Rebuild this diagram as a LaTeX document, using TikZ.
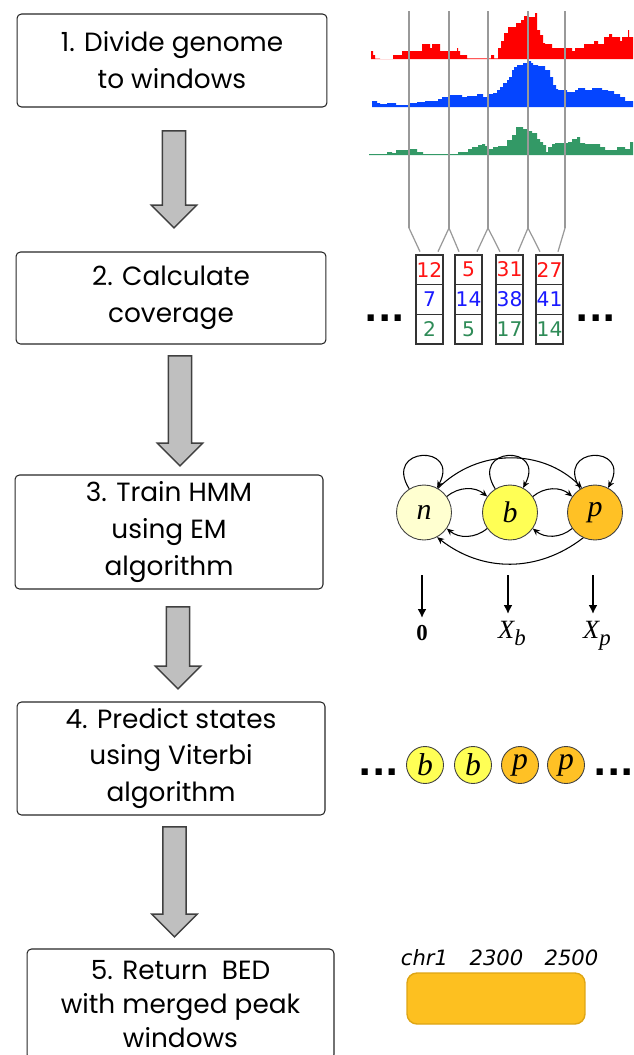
\documentclass[tikz,border=0pt]{standalone}
\usepackage{fontspec}
\setmainfont{Poppins}
\newfontfamily\dvfont{DejaVu Sans}
\newfontfamily\hmmfont{Liberation Serif}
\usetikzlibrary{positioning,calc,shapes.arrows,arrows.meta}

\definecolor{histred}{RGB}{255,0,0}
\definecolor{histblue}{RGB}{5,69,255}
\definecolor{histgreen}{RGB}{51,153,102}
\definecolor{numred}{RGB}{255,20,20}
\definecolor{numblue}{RGB}{25,25,255}
\definecolor{numgreen}{RGB}{46,139,87}
\definecolor{staten}{RGB}{255,255,208}
\definecolor{stateb}{RGB}{255,255,85}
\definecolor{statep}{RGB}{255,193,37}
\definecolor{peakfill}{RGB}{253,192,32}
\definecolor{peakline}{RGB}{222,165,20}

% emitted symbol with a large subscript
\newcommand{\emitsym}[1]{{\itshape X\raisebox{-4pt}{\fontsize{13}{13}\selectfont #1}}}

\tikzset{
  stepbox/.style={draw=black!85, line width=0.6pt, rounded corners=2.5pt, align=center,
    font=\fontsize{15}{21}\selectfont, minimum width=6.2cm},
  bigarrow/.style={single arrow, draw=black!75, fill=black!25, line width=0.8pt,
    shape border rotate=270, minimum width=0.88cm, single arrow head extend=0.22cm, inner sep=0.22cm},
  winline/.style={draw=black!40, line width=0.7pt},
  covcell/.style={draw=black!80, line width=0.5pt, minimum width=0.54cm, minimum height=0.594cm,
    inner sep=0pt, outer sep=0pt, font=\dvfont\fontsize{11.5}{12}\selectfont},
  colframe/.style={draw=black!80, line width=1.2pt},
  dots/.style={font=\dvfont\bfseries\fontsize{20}{20}\selectfont, inner sep=0pt, anchor=base},
  hmmstate/.style={circle, draw=black!75, line width=0.5pt, minimum size=1.1cm, inner sep=0pt,
    font=\hmmfont\itshape\fontsize{17}{17}\selectfont},
  hmmedge/.style={draw=black, line width=0.6pt, -{Stealth[length=4pt,width=3.5pt]}},
  emit/.style={draw=black, line width=1.1pt, -{Latex[length=5pt,width=5pt]}},
  emitlabel/.style={anchor=north, inner xsep=0pt, inner ysep=4pt, font=\hmmfont\fontsize{15}{15}\selectfont},
  pathstate/.style={circle, draw=black!75, line width=0.5pt, minimum size=0.74cm, inner sep=0pt,
    font=\hmmfont\itshape\fontsize{18}{18}\selectfont},
  bedlabel/.style={anchor=base, inner sep=0pt, font=\dvfont\itshape\fontsize{12}{12}\selectfont},
  peakbox/.style={draw=peakline, fill=peakfill, line width=0.8pt, rounded corners=0.2cm,
    minimum width=3.56cm, minimum height=1.02cm}
}

\begin{document}
\begin{tikzpicture}[x=0.02cm, y=-0.02cm]
    \useasboundingbox (0,0) rectangle (633,1055);
    \clip (0,0) rectangle (633,1055);

    % steps on the left
    \node[stepbox, minimum height=1.86cm] (s1) at (172,60.5) {1. Divide genome\\to windows};
    \node[stepbox, minimum height=1.84cm] (s2) at (171,298) {2. Calculate\\coverage};
    \node[stepbox, minimum height=2.28cm, minimum width=6.16cm] (s3) at (169,532) {3. Train HMM\\using EM\\algorithm};
    \node[stepbox, minimum height=2.26cm, minimum width=6.16cm] (s4) at (171,758.5) {4. Predict states\\using Viterbi\\algorithm};
    \node[stepbox, minimum height=2.2cm, minimum width=6.14cm, font=\fontsize{15}{19.5}\selectfont] (s5) at (180.5,1004) {5. Return\ \ BED\\with merged peak\\windows};

    \node[bigarrow, minimum height=1.94cm] (a1) at (174,173.5) {};
    \node[bigarrow, minimum height=2.2cm] (a2) at (180,405) {};
    \node[bigarrow, minimum height=1.64cm] (a3) at (178,642) {};
    \node[bigarrow, minimum height=2.2cm] (a4) at (174.5,876) {};

    % coverage tracks
    \fill[histred] (371,59) -- plot[const plot] coordinates {(371,51) (373,55) (375,58.5) (380,59)
      (393,55) (402,51) (422,44) (430,48) (432,44) (440,51) (457,48) (458,51) (460,55) (467,58.4)
      (491,55) (494,58.4) (498,48) (501,41) (504,33) (508,27) (516,23) (521,20) (524,16) (527,17)
      (535,13) (537,30) (540,35) (543,43) (545,44) (552,48) (572,51) (575,48) (584,44) (594,41)
      (598,44) (604,37) (609,34) (612,37) (620,41) (622,37) (628,30) (629,37) (633,37)} -- (633,59) -- cycle;
    \fill[histblue] (372,107) -- plot[const plot] coordinates {(372,101) (377,103) (380,104) (387,103)
      (396,105) (410,103) (417,102) (425,101) (438,99) (442,97) (450,95) (462,97) (467,96) (477,94)
      (483,97) (488,94) (493,93) (497,90) (500,87) (503,83) (507,80) (509,77) (512,70) (514,67)
      (517,65) (523,63) (527,61) (531,63) (533,65) (538,66) (545,70) (550,77) (553,85) (556,89)
      (558,90) (567,92) (575,90) (578,88) (585,90) (592,88) (602,90) (608,91) (614,94) (620,97)
      (625,101) (633,101)} -- (633,107) -- cycle;
    \fill[histgreen] (369,155) -- plot[const plot] coordinates {(369,154) (387,152) (392,153) (396,150)
      (410,149) (417,152) (423,154) (458,152) (468,149) (472,147) (478,145) (482,144) (485,146)
      (488,149) (493,147) (498,146) (507,140) (512,135) (516,127) (523,129) (528,131) (532,133)
      (537,139) (540,142) (543,145) (546,152) (548,147) (552,144) (555,143) (568,142) (572,139)
      (577,137) (580,143) (585,144) (600,147) (605,150) (617,147) (625,149) (630,142) (633,142)}
      -- (633,155) -- cycle;

    % window borders
    \foreach \w/\x in {1/409,2/449,3/488,4/528,5/565}
      \draw[winline] (\x,11) -- (\x,228) coordinate (w\w);

    % coverage per window
    \foreach \c/\x/\vr/\vb/\vg in {1/429.5/12/7/2, 2/468.5/5/14/5, 3/509.5/31/38/17, 4/549.5/27/41/14}{
      \node[covcell, text=numred] (c\c-1) at (\x,269.5) {\vr};
      \node[covcell, text=numblue, below=0pt of c\c-1] (c\c-2) {\vb};
      \node[covcell, text=numgreen, below=0pt of c\c-2] (c\c-3) {\vg};
      \draw[colframe] (c\c-1.north west) rectangle (c\c-3.south east);
    }
    \foreach \c [evaluate=\c as \n using int(\c+1)] in {1,2,3,4}{
      \draw[winline] (w\c) -- ($(c\c-1.north west)+(4,-3)$);
      \draw[winline] (w\n) -- ($(c\c-1.north east)+(-5,-3)$);
    }
    \node[dots] (cl) at (385,321) {...};
    \node[dots] (cr) at (596,321) {...};

    % HMM
    \node[hmmstate, fill=staten] (n) at (424,512.5) {n};
    \node[hmmstate, fill=stateb] (b) at (510,512.5) {b};
    \node[hmmstate, fill=statep] (p) at (595,512.5) {p};
    \draw[hmmedge] (n) edge[loop, out=122, in=62, min distance=1cm] (n)
                   (b) edge[loop, out=122, in=62, min distance=1cm] (b)
                   (p) edge[loop, out=122, in=62, min distance=1cm] (p);
    \draw[hmmedge] (n.35) to[bend left=40] (b.145);
    \draw[hmmedge] (b.35) to[bend left=40] (p.145);
    \draw[hmmedge] (b.-145) to[bend left=40] (n.-35);
    \draw[hmmedge] (p.-145) to[bend left=40] (b.-35);
    \draw[hmmedge] (n.60) to[bend left=45] (p.118);
    \draw[hmmedge] (p.-115) to[bend left=38] (n.-62);

    \coordinate (n-out) at (422,575);
    \coordinate (b-out) at (508,575);
    \coordinate (p-out) at (593,575);
    \node[emitlabel, font=\hmmfont\bfseries\fontsize{13}{13}\selectfont] (on) at (422,618) {0};
    \node[emitlabel] (ob) at (512,614) {\emitsym{b}};
    \node[emitlabel] (op) at (597,614) {\emitsym{p}};
    \draw[emit] (n-out) -- (on.north -| n-out);
    \draw[emit] (b-out) -- (ob.north -| b-out);
    \draw[emit] (p-out) -- (op.north -| p-out);

    % decoded path
    \node[dots] (vl) at (379,775) {...};
    \node[pathstate, fill=stateb] (v1) at (425,765) {b};
    \node[pathstate, fill=stateb] (v2) at (473,765) {b};
    \node[pathstate, fill=statep] (v3) at (520,765) {p};
    \node[pathstate, fill=statep] (v4) at (566,765) {p};
    \node[dots] (vr) at (614,775) {...};

    % merged peak
    \node[bedlabel] (chr) at (424.5,965) {chr1};
    \node[bedlabel] (pstart) at (496.5,965) {2300};
    \node[bedlabel] (pend) at (571.5,965) {2500};
    \node[peakbox] (peak) at (496,998.5) {};
\end{tikzpicture}
\end{document}
